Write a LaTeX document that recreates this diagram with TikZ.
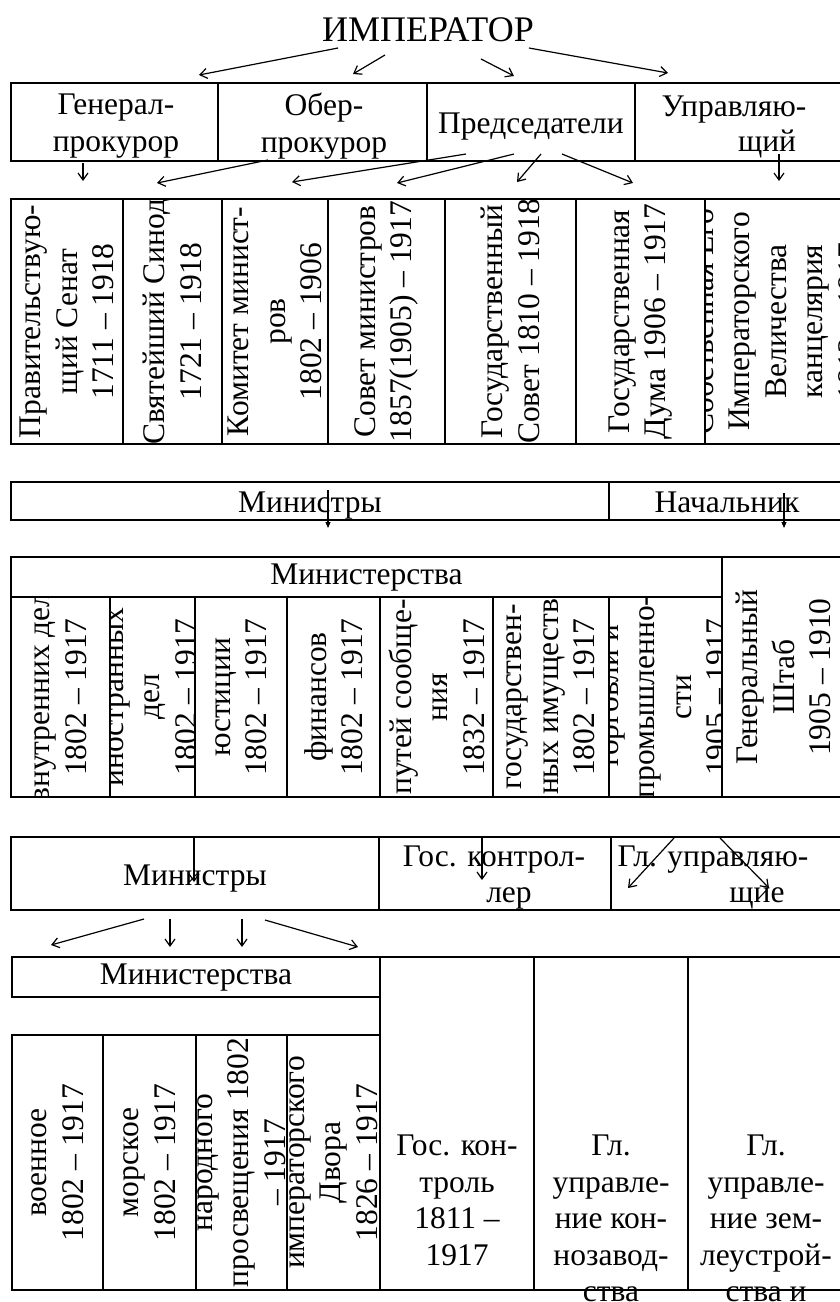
\documentclass[tikz,border=0pt]{standalone}
\usepackage{fontspec}
\setmainfont{Liberation Serif}
\usetikzlibrary{arrows.meta}
\newcommand\vcell[6]{\begin{scope}\clip (#2,#3) rectangle (#4,#5);
  \node[vtxt] (#1) at ({(#2+#4)/2},{(#3+#5)/2}) {#6};\end{scope}}
\newcommand\arrw[4][arr]{\coordinate (#2s) at (#3); \coordinate (#2e) at (#4); \draw[#1] (#2s) -- (#2e);}
\begin{document}
\begin{tikzpicture}[x=1pt,y=-1pt,
  tbl/.style={line width=1.8pt},
  txt/.style={inner sep=0pt, align=center, font=\fontsize{31.5}{36.5}\selectfont},
  btxt/.style={txt, anchor=base},
  vtxt/.style={txt, rotate=90},
  arr/.style={line width=1.2pt, -{Straight Barb[length=7pt,width=10pt]}},
  arrs/.style={line width=1.2pt, -{Triangle[length=6pt,width=5pt]}}]
\path[use as bounding box] (0,0) rectangle (840,1302);
\clip (0,0) rectangle (840,1302);

% ---- top ----
\node[txt, font=\fontsize{36}{40}\selectfont] (imp) at (428,30) {ИМПЕРАТОР};
\arrw{t1}{338,48}{199,75}
\arrw{t2}{385,55}{353,74}
\arrw{t3}{481,59}{514,76}
\arrw{t4}{529,48}{668,73}

% ---- row 1 ----
\draw[tbl] (11,83) rectangle (850,161);
\foreach \x in {218,427,635} \draw[tbl] (\x,83) -- (\x,161);
\node[txt] (gp) at (116,126) {Генерал-\\прокурор};
\node[txt] (op) at (324,126) {Обер-\\прокурор};
\node[txt] (pr) at (531,127) {Председатели};
\node[btxt] (up) at (734,116) {Управляю-};
\node[btxt] (up2) at (767,151) {щий};

\arrw{r1}{83,163}{83,181}
\arrw{r2}{268,160}{157,183}
\arrw{r3}{466,154}{292,182}
\arrw{r4}{514,154}{397,183}
\arrw{r5}{541,154}{517,182}
\arrw{r6}{562,154}{633,183}
\arrw{r7}{779,154}{779,181}

% ---- row 2 ----
\vcell{c1}{11}{199}{123}{444}{Правительствую-\\щий Сенат\\1711 – 1918}
\vcell{c2}{123}{199}{222}{444}{Святейший Синод\\1721 – 1918}
\vcell{c3}{222}{199}{328}{444}{Комитет минист-\\ров\\1802 – 1906}
\vcell{c4}{328}{199}{445}{444}{Совет министров\\1857(1905) – 1917}
\vcell{c5}{445}{199}{576}{444}{Государственный\\Совет 1810 – 1918}
\vcell{c6}{576}{199}{705}{444}{Государственная\\Дума 1906 – 1917}
\vcell{c7}{705}{199}{845}{444}{Собственная Его\\Императорского\\Величества\\канцелярия\\1812 – 1917}
\draw[tbl] (11,199) rectangle (850,444);
\foreach \x in {123,222,328,445,576,705} \draw[tbl] (\x,199) -- (\x,444);

% ---- row 3 ----
\draw[tbl] (11,482) rectangle (850,520);
\draw[tbl] (609,482) -- (609,520);
\node[btxt] (min1) at (310,512) {Министры};
\node[btxt] (nach) at (727,512) {Начальник};
\arrw[arrs]{m1}{328,490}{328,528}
\arrw[arrs]{m2}{784,493}{784,528}

% ---- row 4 ----
\node[txt] (mst1) at (366.5,578) {Министерства};
\vcell{d1}{11}{597}{110}{797}{внутренних дел\\1802 – 1917}
\vcell{d2}{110}{597}{195}{797}{иностранных\\дел\\1802 – 1917}
\vcell{d3}{195}{597}{287}{797}{юстиции\\1802 – 1917}
\vcell{d4}{287}{597}{380}{797}{финансов\\1802 – 1917}
\vcell{d5}{380}{597}{493}{797}{путей сообще-\\ния\\1832 – 1917}
\vcell{d6}{493}{597}{609}{797}{государствен-\\ных имуществ\\1802 – 1917}
\vcell{d7}{609}{597}{722}{797}{торговли и\\промышленно-\\сти\\1905 – 1917}
\vcell{gs}{722}{557}{845}{797}{Генеральный\\Штаб\\1905 – 1910}
\draw[tbl] (11,557) rectangle (850,797);
\draw[tbl] (11,597) -- (722,597);
\draw[tbl] (722,557) -- (722,797);
\foreach \x in {110,195,287,380,493,609} \draw[tbl] (\x,597) -- (\x,797);

% ---- row 5 ----
\draw[tbl] (11,837) rectangle (850,910);
\foreach \x in {379,611} \draw[tbl] (\x,837) -- (\x,910);
\node[btxt] (min2) at (195,885) {Министры};
\node[btxt] (gkr) at (494,866) {Гос. контрол-};
\node[btxt] (gkr2) at (509,902) {лер};
\node[btxt] (glu) at (713,866) {Гл. управляю-};
\node[btxt] (glu2) at (757,902) {щие};
\arrw{s1}{194,838}{194,882}
\arrw{s2}{482,838}{482,880}
\arrw{s3}{674,838}{628,888}
\arrw{s4}{720,838}{769,888}
\arrw{b1}{144,919}{51,945}
\arrw{b2}{170,919}{170,947}
\arrw{b3}{242,919}{242,947}
\arrw{b4}{265,920}{358,947}

% ---- row 6 ----
\node[txt] (mst2) at (196,978) {Министерства};
\vcell{v1}{12}{1035}{103}{1290}{военное\\1802 – 1917}
\vcell{v2}{103}{1035}{196}{1290}{морское\\1802 – 1917}
\vcell{v3}{196}{1035}{287}{1290}{народного\\просвещения 1802\\– 1917}
\vcell{v4}{287}{1035}{380}{1290}{императорского\\Двора\\1826 – 1917}
\node[txt, anchor=north] (gk) at (457,1135) {Гос. кон-\\троль\\1811 –\\1917};
\node[txt, anchor=north] (gkz) at (611,1135) {Гл.\\управле-\\ние кон-\\нозавод-\\ства};
\node[txt, anchor=north] (gzm) at (766,1135) {Гл.\\управле-\\ние зем-\\леустрой-\\ства и};
\draw[tbl] (12,957) rectangle (380,997);
\draw[tbl] (380,997) -- (380,1035);
\draw[tbl] (12,1035) rectangle (380,1290);
\foreach \x in {103,196,287} \draw[tbl] (\x,1035) -- (\x,1290);
\draw[tbl] (380,957) -- (850,957);
\draw[tbl] (380,1290) -- (850,1290);
\foreach \x in {534,688} \draw[tbl] (\x,957) -- (\x,1290);
\end{tikzpicture}
\end{document}
